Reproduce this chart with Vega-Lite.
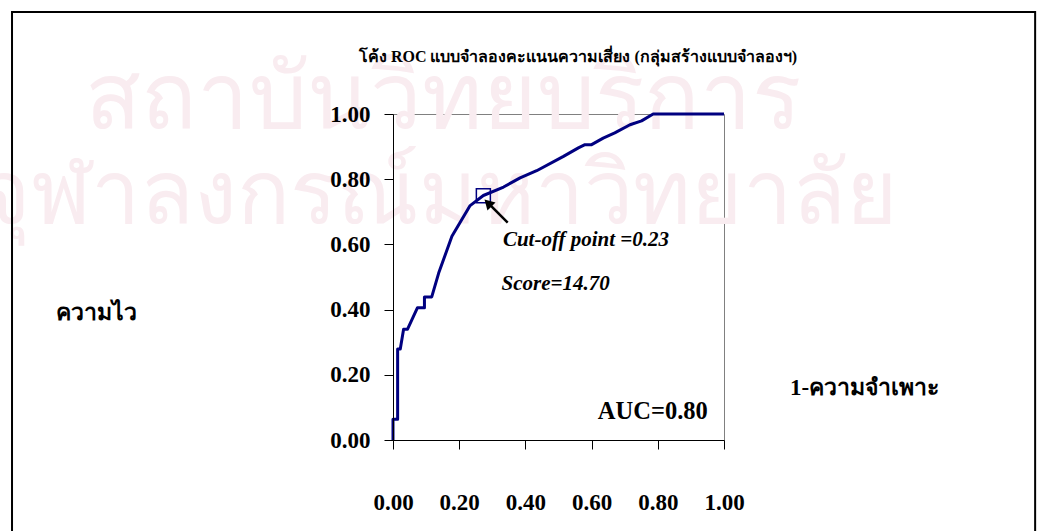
{
  "$schema": "https://vega.github.io/schema/vega-lite/v6.json",
  "width": 331,
  "height": 326,
  "autosize": {"type": "none"},
  "padding": {"left": 393, "top": 114, "right": 321, "bottom": 91},
  "background": "white",
  "config": {"view": {"stroke": "#808080", "strokeWidth": 1}, "font": "Liberation Serif"},
  "datasets": {
    "watermark1": [{"t": "สถาบันวิทยบริการ", "x": -0.93, "y": 1.043}],
    "watermark2": [{"t": "จุฬาลงกรณ์มหาวิทยาลัย", "x": -1.25, "y": 0.745}],
    "frame": [{"x": -1.151, "x2": 1.94, "y": 1.313, "y2": -0.4}],
    "heading": [{"t": "โค้ง ROC แบบจำลองคะแนนความเสี่ยง (กลุ่มสร้างแบบจำลองฯ)", "x": 0.559, "y": 1.175}],
    "roc": [
      {"i": 0, "x": 0.0, "y": 0.0},
      {"i": 1, "x": 0.0, "y": 0.064},
      {"i": 2, "x": 0.014, "y": 0.064},
      {"i": 3, "x": 0.014, "y": 0.279},
      {"i": 4, "x": 0.022, "y": 0.279},
      {"i": 5, "x": 0.032, "y": 0.34},
      {"i": 6, "x": 0.044, "y": 0.34},
      {"i": 7, "x": 0.074, "y": 0.406},
      {"i": 8, "x": 0.095, "y": 0.406},
      {"i": 9, "x": 0.095, "y": 0.439},
      {"i": 10, "x": 0.117, "y": 0.439},
      {"i": 11, "x": 0.138, "y": 0.512},
      {"i": 12, "x": 0.178, "y": 0.625},
      {"i": 13, "x": 0.233, "y": 0.719},
      {"i": 14, "x": 0.273, "y": 0.75},
      {"i": 15, "x": 0.334, "y": 0.776},
      {"i": 16, "x": 0.384, "y": 0.804},
      {"i": 17, "x": 0.434, "y": 0.826},
      {"i": 18, "x": 0.515, "y": 0.87},
      {"i": 19, "x": 0.56, "y": 0.896},
      {"i": 20, "x": 0.58, "y": 0.906},
      {"i": 21, "x": 0.6, "y": 0.906},
      {"i": 22, "x": 0.635, "y": 0.926},
      {"i": 23, "x": 0.67, "y": 0.942},
      {"i": 24, "x": 0.716, "y": 0.967},
      {"i": 25, "x": 0.751, "y": 0.979},
      {"i": 26, "x": 0.786, "y": 1.0},
      {"i": 27, "x": 1.0, "y": 1.0}
    ],
    "cutoff": [{"x": 0.273, "y": 0.749}],
    "arrow": [{"x": 0.3465, "y": 0.6666, "x2": 0.29, "y2": 0.724}],
    "arrowhead": [{"x": 0.287, "y": 0.727}],
    "notes": [
      {"t": "Cut-off point =0.23", "x": 0.332, "y": 0.613},
      {"t": "Score=14.70", "x": 0.328, "y": 0.477}
    ],
    "auc": [{"t": "AUC=0.80", "x": 0.951, "y": 0.086}]
  },
  "encoding": {
    "x": {
      "field": "x", "type": "quantitative",
      "scale": {"domain": [0, 1], "nice": false, "zero": false},
      "axis": {
        "values": [0, 0.2, 0.4, 0.6, 0.8, 1.0], "format": ".2f", "grid": false, "zindex": 1,
        "domainColor": "black", "tickColor": "black", "tickSize": 9,
        "labelFont": "Liberation Serif", "labelFontSize": 23, "labelFontWeight": "bold", "labelColor": "black",
        "labelPadding": 42, "labelFlush": false,
        "title": "1-ความจำเพาะ", "titleFont": "Liberation Serif", "titleFontSize": 23, "titleFontWeight": "bold", "titleColor": "black",
        "titleX": 471, "titleY": -53, "titleAlign": "center", "titleBaseline": "middle", "titleAngle": 0
      }
    },
    "y": {
      "field": "y", "type": "quantitative",
      "scale": {"domain": [0, 1], "nice": false, "zero": false},
      "axis": {
        "values": [0, 0.2, 0.4, 0.6, 0.8, 1.0], "format": ".2f", "grid": false, "zindex": 1,
        "domainColor": "black", "tickColor": "black", "tickSize": 9,
        "labelFont": "Liberation Serif", "labelFontSize": 23, "labelFontWeight": "bold", "labelColor": "black",
        "labelPadding": 14, "labelFlush": false,
        "title": "ความไว", "titleFont": "Liberation Serif", "titleFontSize": 23, "titleFontWeight": "bold", "titleColor": "black",
        "titleX": -297, "titleY": 198, "titleAlign": "center", "titleBaseline": "middle", "titleAngle": 0
      }
    }
  },
  "layer": [
    {
      "data": {"name": "watermark1"},
      "mark": {"type": "text", "align": "left", "baseline": "middle", "fontSize": 92, "font": "Noto Sans", "color": "#f9ecf0"},
      "encoding": {"text": {"field": "t"}}
    },
    {
      "data": {"name": "watermark2"},
      "mark": {"type": "text", "align": "left", "baseline": "middle", "fontSize": 88, "font": "Noto Sans", "color": "#f9ecf0"},
      "encoding": {"text": {"field": "t"}}
    },
    {
      "data": {"name": "frame"},
      "mark": {"type": "rect", "fill": "transparent", "stroke": "black", "strokeWidth": 2},
      "encoding": {"x2": {"field": "x2"}, "y2": {"field": "y2"}}
    },
    {
      "data": {"name": "heading"},
      "mark": {"type": "text", "align": "center", "baseline": "middle", "fontSize": 16, "fontWeight": "bold", "font": "Liberation Serif", "color": "black"},
      "encoding": {"text": {"field": "t"}}
    },
    {
      "data": {"name": "roc"},
      "mark": {"type": "line", "color": "#000080", "strokeWidth": 3, "strokeJoin": "round"},
      "encoding": {"order": {"field": "i", "type": "quantitative"}}
    },
    {
      "data": {"name": "cutoff"},
      "mark": {"type": "point", "shape": "square", "size": 196, "filled": false, "stroke": "#000080", "strokeWidth": 1.5, "opacity": 1}
    },
    {
      "data": {"name": "arrow"},
      "mark": {"type": "rule", "color": "black", "strokeWidth": 2.5},
      "encoding": {"x2": {"field": "x2"}, "y2": {"field": "y2"}}
    },
    {
      "data": {"name": "arrowhead"},
      "mark": {"type": "point", "shape": "triangle-up", "size": 130, "filled": true, "color": "black", "opacity": 1, "angle": 315}
    },
    {
      "data": {"name": "notes"},
      "mark": {"type": "text", "align": "left", "baseline": "middle", "fontSize": 21, "fontWeight": "bold", "fontStyle": "italic", "font": "Liberation Serif", "color": "black"},
      "encoding": {"text": {"field": "t"}}
    },
    {
      "data": {"name": "auc"},
      "mark": {"type": "text", "align": "right", "baseline": "middle", "fontSize": 24.5, "fontWeight": "bold", "font": "Liberation Serif", "color": "black"},
      "encoding": {"text": {"field": "t"}}
    }
  ]
}
